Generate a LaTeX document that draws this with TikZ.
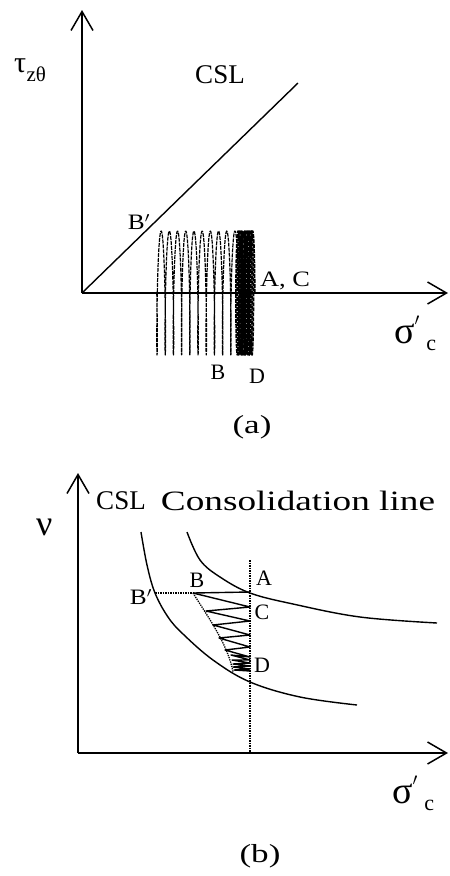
\documentclass[tikz,border=0pt]{standalone}
\usepackage{fontspec}
\setmainfont{Liberation Serif}
\usetikzlibrary{arrows.meta}
\newcommand{\wide}[2]{\scalebox{#1}[1]{#2}}
\tikzset{
  % axes with open barb heads
  ax/.style={line width=1.5pt, -{Straight Barb[length=19pt,width=22pt,line width=1.5pt]}},
  crv/.style={line width=1.4pt},
  osc/.style={line width=1.2pt, line join=round, dash pattern=on 4pt off 1pt},
  zz/.style={line width=1.4pt, line join=round},
  dotl/.style={line width=1.5pt, densely dotted},
  lbl/.style={font=\fontsize{22}{24}\selectfont, inner sep=0pt},
  big/.style={font=\fontsize{27}{30}\selectfont, inner sep=0pt},
  capt/.style={font=\fontsize{26}{28}\selectfont, inner sep=0pt},
}
\begin{document}
\begin{tikzpicture}[x=1pt, y=-1pt]
\useasboundingbox (0,0) rectangle (450,876);

% ---------------- (a) stress path ----------------
\coordinate (O1) at (82,293);
\coordinate (T1) at (82,10);
\coordinate (R1) at (448,293);
\draw[ax] (O1) -- (T1);
\draw[ax] (O1) -- (R1);

\coordinate (cslEnd) at (298,83);
\draw[crv] (O1) -- (cslEnd);

% cyclic loops, dense near A then spreading to B
\draw[osc, line width=1.6pt] plot[domain=0:12, samples=480, smooth]
  ({253-1.33*\x+1.8*cos(360*\x)},{293-62*sin(360*\x)});
\draw[osc] plot[domain=12:22, samples=400, smooth]
  ({237-8.2*(\x-12)+1.8*cos(360*\x)},{293-62*sin(360*\x)});

\node[big] (csl1) at (220,75) {CSL};
\node[anchor=base west, inner sep=0pt, font=\fontsize{30}{34}\selectfont] (tau) at (14,72) {τ};
\node[anchor=base west, inner sep=0pt, font=\fontsize{21}{24}\selectfont] (tauSub) at (tau.base east) {\raisebox{-9pt}{zθ}};
\node[lbl] (Bp1) at (139,222) {\wide{1.15}{B$'$}};
\node[lbl] (AC1) at (285,281) {\wide{1.2}{A, C}};
\node[lbl] (B1) at (218,372) {B};
\node[lbl] (D1) at (257,376) {D};
\node[anchor=base west, inner sep=0pt, font=\fontsize{38}{40}\selectfont] (sig1) at (394,343) {σ\raisebox{8pt}{\fontsize{24}{26}\selectfont$'$}};
\node[anchor=base west, inner sep=0pt, font=\fontsize{22}{24}\selectfont] (sig1c) at ([xshift=6pt,yshift=-7pt]sig1.base east) {c};
\node[capt] (capA) at (252,427) {\wide{1.35}{(a)}};

% ---------------- (b) volume path ----------------
\coordinate (O2) at (78,753);
\coordinate (T2) at (78,473);
\coordinate (R2) at (448,753);
\draw[ax] (O2) -- (T2);
\draw[ax] (O2) -- (R2);

% critical state line
\draw[crv] plot[smooth, tension=0.6] coordinates {
  (141,532) (147,565) (155,593) (168,617) (183,634) (213,660) (250,682) (300,697) (357,705)};
% consolidation line
\draw[crv] plot[smooth, tension=0.6] coordinates {
  (187,532) (200,560) (220,577) (250,593) (293,604) (360,617) (437,623)};

\coordinate (Bp) at (155,593);
\coordinate (Bpt) at (193,593);
\coordinate (Apt) at (250,592);
\coordinate (Cpt) at (250,607);
\coordinate (vTop) at (250,560);
\coordinate (vBot) at (250,753);
\coordinate (Dlow) at (233,672);

\draw[dotl] (vTop) -- (vBot);
\draw[dotl] (Bp) -- (Bpt);
\draw[line width=1.3pt, densely dotted] (Bpt) .. controls (210,620) and (228,645) .. (Dlow);
\draw[crv] (Bpt) -- (Apt);
\draw[zz] (Bpt) -- (Cpt) -- (206,611) -- (250,621) -- (213,625) -- (250,635)
  -- (219,638) -- (250,647) -- (225,650) -- (250,657) -- (231,655) -- (250,660)
  -- (232,660) -- (250,663) -- (233,664) -- (250,666) -- (233,667) -- (250,669)
  -- (234,670) -- (250,671);

\node[big] (csl2) at (121,501) {CSL};
\node[font=\fontsize{28}{30}\selectfont, inner sep=0pt] (cons) at (298,501) {\wide{1.33}{Consolidation line}};
\node[anchor=base west, inner sep=0pt, font=\fontsize{36}{40}\selectfont] (nu) at (36,535) {ν};
\node[lbl] (Bp2) at (141,597) {\wide{1.15}{B$'$}};
\node[lbl] (B2) at (197,580) {B};
\node[lbl] (A2) at (264,578) {A};
\node[lbl] (C2) at (262,612) {C};
\node[lbl] (D2) at (262,665) {D};
\node[anchor=base west, inner sep=0pt, font=\fontsize{38}{40}\selectfont] (sig2) at (392,803) {σ\raisebox{8pt}{\fontsize{24}{26}\selectfont$'$}};
\node[anchor=base west, inner sep=0pt, font=\fontsize{22}{24}\selectfont] (sig2c) at ([xshift=6pt,yshift=-7pt]sig2.base east) {c};
\node[capt] (capB) at (260,856) {\wide{1.35}{(b)}};
\end{tikzpicture}
\end{document}
